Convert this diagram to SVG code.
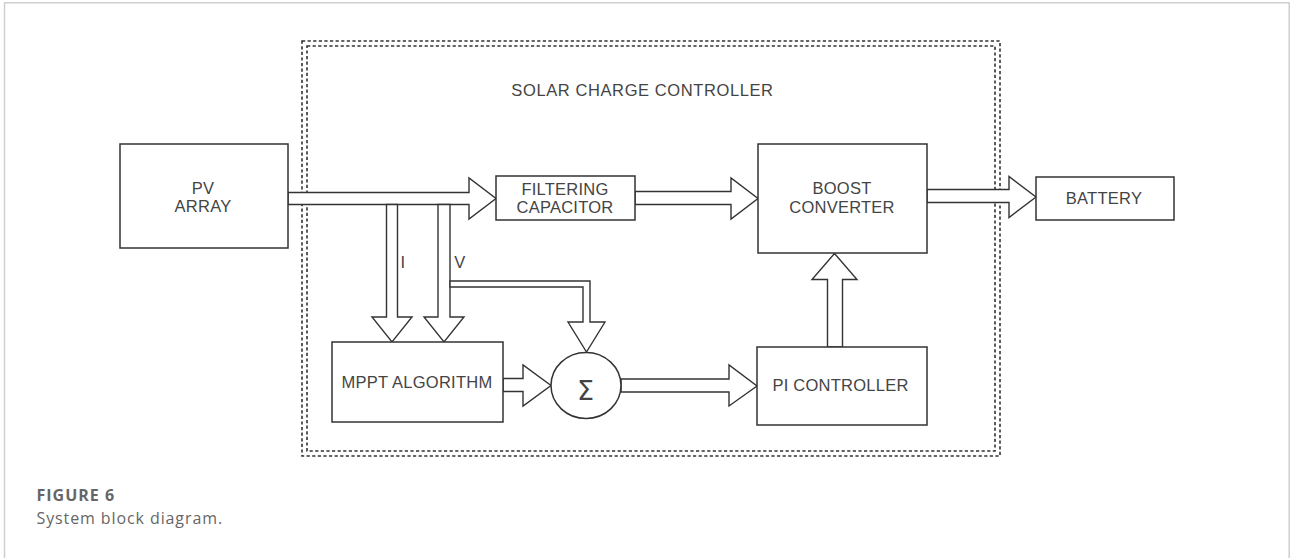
<svg xmlns="http://www.w3.org/2000/svg" width="1290" height="558" viewBox="0 0 1290 558">
<style>
.frame{fill:none;stroke:#cfcfcf;stroke-width:1.5}
.dot{fill:none;stroke:#333;stroke-width:1.6;stroke-dasharray:3.2 2.4}
.box{fill:#fff;stroke:#333;stroke-width:1.5}
.arr{fill:#fff;stroke:#333;stroke-width:1.4;stroke-linejoin:miter}
.t{font-family:"Liberation Sans",Arial,sans-serif;font-size:16.5px;letter-spacing:0.25px;fill:#444;text-anchor:middle}
.cap{font-family:"Open Sans","Liberation Sans",sans-serif;fill:#666}
</style>
<rect width="1290" height="558" fill="#fff"/>
<path class="frame" d="M4.5,558 V2.8 H1289.2 V558"/>
<g id="controller-boundary">
<rect class="dot" x="302" y="41" width="698" height="415"/>
<rect class="dot" x="307" y="46" width="688" height="405"/>
<text class="t" x="642.5" y="96" style="letter-spacing:0.6px">SOLAR CHARGE CONTROLLER</text>
</g>
<g id="connectors">
<polygon class="arr" points="288,192.5 469,192.5 469,178 496,198.5 469,219 469,204.5 288,204.5"/>
<polygon class="arr" points="386.5,204.5 397.5,204.5 397.5,317 412,317 392,342 372,317 386.5,317"/>
<polygon class="arr" points="438,204.5 450,204.5 450,317 464,317 444,342 424,317 438,317"/>
<polygon class="arr" points="450,281 590,281 590,322 605,322 586.5,352 568,322 583,322 583,287 450,287"/>
<polygon class="arr" points="635,191.5 731,191.5 731,178 758,198.5 731,219 731,204.5 635,204.5"/>
<polygon class="arr" points="927,189.5 1009,189.5 1009,176.5 1036,197 1009,217.5 1009,202.5 927,202.5"/>
<polygon class="arr" points="503,378.5 523,378.5 523,365 551,385.5 523,406 523,391.5 503,391.5"/>
<polygon class="arr" points="621,379 729,379 729,365 757,386 729,406 729,392 621,392"/>
<polygon class="arr" points="827.5,347 827.5,279.5 812,279.5 834.5,253.5 857,279.5 842.5,279.5 842.5,347"/>
<text class="t" x="403" y="268">I</text>
<text class="t" x="460" y="268">V</text>
</g>
<g id="pv-array">
<rect class="box" x="120" y="144" width="168" height="104"/>
<text class="t" x="203" y="194">PV</text>
<text class="t" x="203" y="212">ARRAY</text>
</g>
<g id="filtering-capacitor">
<rect class="box" x="496" y="176" width="139" height="44"/>
<text class="t" x="565" y="195">FILTERING</text>
<text class="t" x="565" y="213">CAPACITOR</text>
</g>
<g id="boost-converter">
<rect class="box" x="758" y="144" width="169" height="109"/>
<text class="t" x="842" y="194">BOOST</text>
<text class="t" x="842" y="213">CONVERTER</text>
</g>
<g id="battery">
<rect class="box" x="1036" y="177" width="138" height="43"/>
<text class="t" x="1104" y="204">BATTERY</text>
</g>
<g id="mppt-algorithm">
<rect class="box" x="332" y="342" width="171" height="80"/>
<text class="t" x="417" y="387.5">MPPT ALGORITHM</text>
</g>
<g id="summer">
<ellipse class="box" cx="586" cy="385.5" rx="35" ry="33"/>
<text class="t" x="585.5" y="400" style="font-size:27px;font-family:'DejaVu Sans','Liberation Sans',sans-serif;font-weight:normal;letter-spacing:0">Σ</text>
</g>
<g id="pi-controller">
<rect class="box" x="757" y="347" width="170" height="78"/>
<text class="t" x="840.5" y="391">PI CONTROLLER</text>
</g>
<g id="caption">
<text class="cap" x="36.5" y="501" style="font-size:16px;font-weight:700;letter-spacing:1px">FIGURE 6</text>
<text class="cap" x="36.5" y="523.5" style="font-size:16px;letter-spacing:0.9px">System block diagram.</text>
</g>
</svg>
